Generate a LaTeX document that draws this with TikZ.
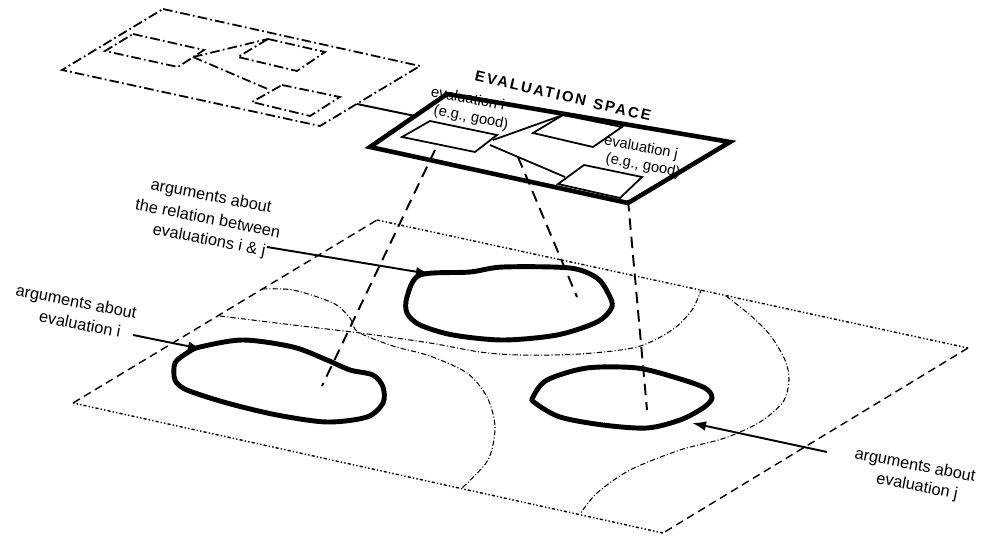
\documentclass[tikz,border=0pt]{standalone}
\usepackage{fontspec}
\setmainfont{Liberation Sans}
\usetikzlibrary{arrows.meta}

\begin{document}
\begin{tikzpicture}[
  x=0.02cm,y=-0.02cm,
  every node/.style={font=\fontsize{9.3}{11.2}\selectfont,inner sep=0pt},
  argline/.style={rotate=-11},
  evalline/.style={rotate=-11,font=\fontsize{8.4}{10.4}\selectfont},
  sketchedge/.style={line width=1pt,dash pattern=on 5.5pt off 1.8pt on 1pt off 1.8pt},
  planerim/.style={line width=0.8pt,dash pattern=on 4.5pt off 2.8pt},
  planedots/.style={line width=0.8pt,dash pattern=on 1.8pt off 1.2pt on 0.8pt off 1.2pt on 0.8pt off 1.2pt},
  region/.style={line width=0.6pt,dash pattern=on 3pt off 1.2pt on 0.6pt off 1.2pt},
  evalbox/.style={line width=2.6pt,line join=miter},
  evalrect/.style={line width=1pt},
  drop/.style={line width=1.1pt,dash pattern=on 6.5pt off 4pt},
  blob/.style={line width=2.8pt},
  pointer/.style={-{Latex[length=8pt,width=5.5pt]},line width=1.1pt}
]
  \useasboundingbox (0,0) rectangle (990,537);

  % small sketch plane
  \coordinate (sk1) at (163,9);
  \coordinate (sk2) at (420,66);
  \coordinate (sk3) at (320,126);
  \coordinate (sk4) at (62,70);
  \draw[sketchedge] (sk1) -- (sk2) -- (sk3) -- (sk4) -- cycle;
  \draw[sketchedge] (133,34) -- (204,50) -- (178,67) -- (105,51) -- cycle;
  \draw[sketchedge] (268,39) -- (325,52) -- (297,71) -- (238,57) -- cycle;
  \draw[sketchedge] (282,85) -- (340,97) -- (310,116) -- (252,102) -- cycle;
  \draw[sketchedge] (193,57) -- (268,39);
  \draw[sketchedge] (193,57) -- (270,90);

  % evaluation space
  \coordinate (es1) at (447,94);
  \coordinate (es2) at (730,142);
  \coordinate (es3) at (628,203);
  \coordinate (es4) at (370,147);
  \draw[evalbox] (es1) -- (es2) -- (es3) -- (es4) -- cycle;
  \draw[evalrect] (430,121) -- (497,135) -- (475,152) -- (402,137) -- cycle;
  \draw[evalrect] (563,115) -- (622,127) -- (593,147) -- (533,133) -- cycle;
  \draw[evalrect] (584,165) -- (642,177) -- (620,198) -- (558,184) -- cycle;
  \draw[evalrect] (493,140) -- (563,115);
  \draw[evalrect] (490,145) -- (565,177);
  \coordinate (skexit) at (357,104);
  \coordinate (esentry) at (415,116);
  \draw[line width=1.1pt] (skexit) -- (esentry);

  \node[font=\fontsize{8.5}{10}\selectfont\bfseries\addfontfeatures{LetterSpace=14},rotate=-13] (estitle) at (563,96) {EVALUATION\enspace SPACE};
  \node[evalline] (evi1) at (468,98) {evaluation i};
  \node[evalline] (evi2) at (471,118) {(e.g., good)};
  \node[evalline] (evj1) at (641,148) {evaluation j};
  \node[evalline] (evj2) at (643,166) {(e.g., good)};

  % argument plane
  \coordinate (ap1) at (377,220);
  \coordinate (ap2) at (968,348);
  \coordinate (ap3) at (663,533);
  \coordinate (ap4) at (73,403);
  \draw[planerim] (ap4) -- (ap1);
  \draw[planedots] (ap1) -- (ap2);
  \draw[planerim] (ap2) -- (ap3);
  \draw[planedots] (ap3) -- (ap4);

  \draw[region] plot[smooth] coordinates {(262,289) (293,290) (333,303) (350,318) (358,332) (393,346) (430,356) (467,373) (487,397) (495,427) (488,460) (462,488)};
  \draw[region] plot[smooth] coordinates {(220,316) (293,325) (360,333) (430,343) (480,352) (520,355) (580,354) (637,347) (672,330) (692,310) (701,290)};
  \draw[region] plot[smooth] coordinates {(726,296) (750,315) (770,335) (785,360) (789,380) (783,402) (760,422) (725,438) (680,450) (630,470) (597,493) (580,514)};

  \draw[blob] plot[smooth cycle] coordinates {(200,347) (243,340) (293,347) (327,360) (350,370) (373,375) (383,387) (383,403) (367,417) (327,422) (277,415) (227,403) (187,390) (175,380) (175,363) (187,353)};
  \draw[blob] plot[smooth cycle] coordinates {(420,275) (470,272) (503,267) (570,268) (597,278) (608,293) (612,307) (597,322) (557,335) (503,340) (453,335) (420,325) (407,313) (407,297)};
  \draw[blob] plot[smooth cycle] coordinates {(535,403) (533,397) (547,380) (587,368) (637,368) (677,378) (705,388) (712,398) (703,408) (680,420) (647,428) (603,425) (560,417)};

  % projections
  \coordinate (dropi) at (435,150);
  \coordinate (dropij) at (518,157);
  \coordinate (dropj) at (628,200);
  \coordinate (footi) at (322,386);
  \coordinate (footij) at (577,297);
  \coordinate (footj) at (647,410);
  \draw[drop] (dropi) -- (footi);
  \draw[drop] (dropij) -- (footij);
  \draw[drop] (dropj) -- (footj);

  % labels
  \node[argline] (argi1) at (76,303) {arguments about};
  \node[argline] (argi2) at (80,324) {evaluation i};
  \node[argline] (argij1) at (211,197) {arguments about};
  \node[argline] (argij2) at (208,218) {the relation between};
  \node[argline] (argij3) at (209,241) {evaluations i \& j};
  \node[argline] (argj1) at (915,466) {arguments about};
  \node[argline] (argj2) at (917,487) {evaluation j};
  \coordinate (tipi) at (202,349);
  \coordinate (tipij) at (430,274);
  \coordinate (tipj) at (692,423);
  \coordinate (taili) at (133,335);
  \coordinate (tailij) at (267,247);
  \coordinate (tailj) at (827,452);
  \draw[pointer] (taili) -- (tipi);
  \draw[pointer] (tailij) -- (tipij);
  \draw[pointer] (tailj) -- (tipj);
\end{tikzpicture}
\end{document}
